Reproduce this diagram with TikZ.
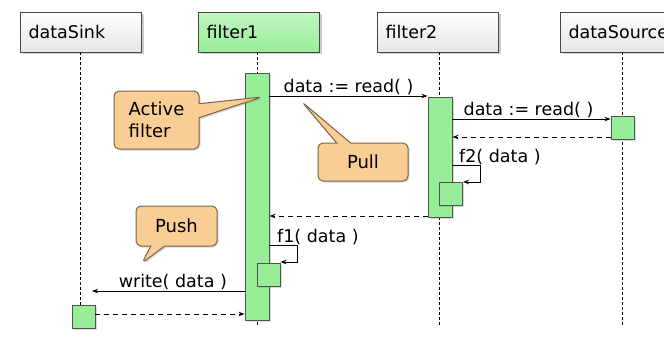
\documentclass[tikz,border=0pt]{standalone}
\usepackage{fontspec}
\setmainfont{DejaVu Sans}
\usetikzlibrary{arrows.meta,shadows,shapes.callouts}
\definecolor{Leaf}{HTML}{98EE98}
\definecolor{LeafLine}{HTML}{4A5A4A}
\definecolor{Peach}{HTML}{F9CD96}
\definecolor{PeachLine}{HTML}{7A6445}
\definecolor{Frame}{HTML}{474747}

\begin{document}
\begin{tikzpicture}[x=1pt,y=-1pt,
    head/.style={draw=Frame,line width=1pt,top color=white,bottom color=black!10,minimum width=121pt,minimum height=40pt,text width=105pt,inner xsep=8pt,align=left,font=\fontsize{17.5}{20}\selectfont,drop shadow={opacity=.4,shadow xshift=2pt,shadow yshift=-2pt}},
    bar/.style={draw=LeafLine,line width=.9pt,fill=Leaf,minimum width=24pt,inner sep=0pt,drop shadow={opacity=.3,shadow xshift=1.5pt,shadow yshift=-1.5pt}},
    cube/.style={bar,minimum width=23pt,minimum height=23pt},
    life/.style={densely dashed,line width=.6pt},
    msg/.style={-{Stealth[length=6pt,width=4.5pt]},line width=1pt},
    ret/.style={msg,dash pattern=on 5pt off 4pt},
    lbl/.style={font=\fontsize{17.5}{20}\selectfont,inner sep=1pt},
    tip/.style={rectangle callout,rounded corners=5pt,draw=PeachLine,line width=1pt,fill=Peach,callout pointer width=14pt,align=left,font=\fontsize{18}{22}\selectfont,drop shadow={opacity=.3,shadow xshift=1.5pt,shadow yshift=-1.5pt}}
  ]
    \useasboundingbox (0,0) rectangle (664,343);
    \clip (0,0) rectangle (664,343);
    % objects
    \node[head] (sink) at (81,32) {dataSink};
    \node[head,top color=Leaf!60,bottom color=Leaf] (f1) at (259,32) {filter1};
    \node[head] (f2) at (438,32) {filter2};
    \node[head] (src) at (621,32) {dataSource};
    \draw[life] (80,52) -- (80,325);
    \draw[life] (257,52) -- (257,325);
    \draw[life] (439,52) -- (439,325);
    \draw[life] (622,52) -- (622,325);
    % activations
    \node[bar,minimum height=247pt,anchor=north] (a1) at (257,73) {};
    \node[bar,minimum height=120pt,anchor=north] (a2) at (440,97) {};
    \node[cube] (s1) at (622.5,128) {};
    \node[cube] (p2) at (451,194) {};
    \node[cube] (p1) at (268.5,274.5) {};
    \node[cube] (k1) at (83.5,316.5) {};
    % messages
    \draw[msg] (a1.east |- 0,96) -- node[lbl,above] (m1) {data := read( )} (a2.west |- 0,96);
    \draw[msg] (a2.east |- 0,119) -- node[lbl,above,xshift=-3pt] (m2) {data := read( )} (s1.west |- 0,119);
    \draw[ret] (s1.west |- 0,137) -- (a2.east |- 0,137);
    \draw[msg] (a2.east |- 0,165) -| (480,182) -- (p2.east |- 0,182);
    \node[lbl,anchor=base west] (m3) at (458,162) {f2( data )};
    \draw[ret] (a2.west |- 0,216) -- (a1.east |- 0,216);
    \draw[msg] (a1.east |- 0,245) -| (297,262) -- (p1.east |- 0,262);
    \node[lbl,anchor=base west] (m4) at (276,242) {f1( data )};
    \coordinate (wend) at (92,291);
    \draw[msg] (a1.west |- 0,291) -- node[lbl,above,pos=.47] (m5) {write( data )} (wend);
    \draw[ret] (k1.east |- 0,314) -- (a1.west |- 0,314);
    % notes
    \node[tip,minimum width=85pt,minimum height=58pt,callout absolute pointer={(262,97)}] (n1) at (156.5,120) {Active\\filter};
    \node[tip,minimum width=90pt,minimum height=38pt,callout absolute pointer={(302,102)}] (n2) at (363,162) {Pull};
    \node[tip,minimum width=81pt,minimum height=40pt,callout absolute pointer={(142,263)}] (n3) at (176.5,226) {Push};
  \end{tikzpicture}
\end{document}
